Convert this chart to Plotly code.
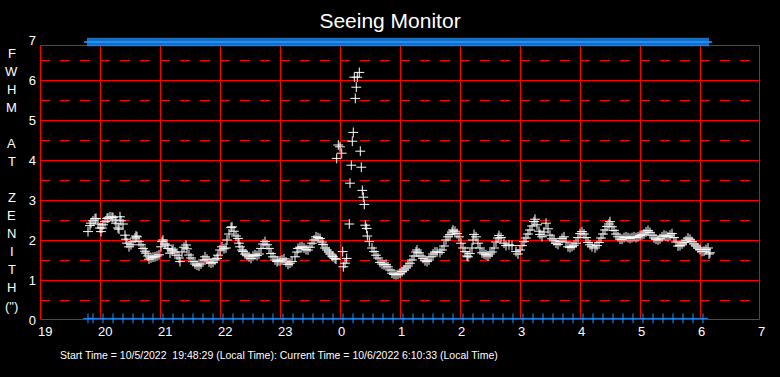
import plotly.graph_objects as go

# ---- data (time in minutes after 19:00 local, FWHM in arcsec) ----
fwhm_minutes = [
    48, 50, 51, 53, 55, 56, 58, 60, 61, 62, 63, 65, 67, 68, 70, 72, 73, 75, 76, 78,
    79, 80, 81, 83, 85, 86, 87, 89, 91, 93, 95, 96, 97, 99, 101, 103, 105, 106, 108, 109,
    111, 113, 115, 117, 119, 121, 122, 123, 125, 127, 128, 130, 132, 133, 135, 137, 139, 140, 142, 144,
    146, 147, 149, 151, 153, 155, 157, 159, 161, 163, 165, 167, 169, 171, 173, 175, 177, 178, 180, 182,
    184, 186, 187, 189, 191, 192, 194, 196, 198, 199, 200, 202, 203, 205, 207, 209, 211, 213, 215, 217,
    219, 221, 223, 225, 227, 229, 231, 233, 235, 237, 238, 240, 242, 244, 246, 248, 250, 252,
    255, 257, 258, 260, 262, 264, 266, 268, 270, 272, 274, 276, 278, 280, 282, 283, 285, 287, 289, 290,
    292, 293, 295, 296,
    296.7, 298.3, 300, 301.7, 302.7, 303.3, 305, 306.7, 309.3, 310, 311.3, 312.3, 313.3, 314.3, 315.3,
    316.3, 317.3, 319.3, 320.3, 321.3, 322.3, 323.3, 324.3, 325.3, 326.7, 327.3, 329.3,
    332, 334, 336, 338, 340, 342, 344, 346, 348, 350, 352, 354, 356, 358, 360, 362, 364, 366, 368, 370,
    372, 374, 376, 377, 379, 381, 383, 385, 387, 389, 391, 393, 395, 397, 400, 402, 404, 406, 408, 410,
    412, 413, 415, 417, 419, 421, 423, 425, 427, 428, 430, 432, 433, 434, 436, 438, 440, 442, 444, 446,
    448, 450, 452, 454, 456, 458, 459, 461, 464, 466, 469, 472, 476, 478, 480, 482, 484, 486, 488, 490,
    492, 494, 495, 497, 499, 500, 502, 504, 506, 508, 510, 512, 514, 516, 518, 520, 522, 524, 526, 528,
    530, 532, 534, 536, 538, 540, 542, 544, 546, 548, 550, 552, 555, 557, 559, 561, 563, 565, 567, 569,
    570, 572, 574, 576, 578, 580, 582, 584, 586, 588, 590, 592, 594, 596, 598, 600, 602, 604, 606, 608,
    610, 612, 614, 616, 618, 620, 622, 624, 626, 628, 630, 632, 634, 636, 638, 640, 642, 644, 646, 648,
    650, 652, 654, 656, 658, 660, 662, 664, 666, 668, 669, 670,
]
fwhm_values = [
    2.21, 2.36, 2.42, 2.48, 2.53, 2.54, 2.40, 2.30, 2.21, 2.30, 2.38, 2.46, 2.54, 2.55, 2.58, 2.57, 2.56, 2.50, 2.42, 2.30,
    2.27, 2.58, 2.48, 2.40, 2.12, 2.02, 1.92, 1.83, 1.88, 1.96, 2.05, 2.10, 2.08, 1.96, 1.88, 1.79, 1.72, 1.67, 1.60, 1.52,
    1.55, 1.57, 1.58, 1.60, 1.63, 1.83, 1.96, 2.00, 1.90, 1.87, 1.79, 1.67, 1.73, 1.77, 1.70, 1.62, 1.55, 1.46, 1.70, 1.82,
    1.875, 1.78, 1.625, 1.55, 1.46, 1.40, 1.37, 1.35, 1.40, 1.50, 1.58, 1.52, 1.45, 1.42, 1.44, 1.50, 1.54, 1.62, 1.75, 1.83,
    1.78, 1.80, 2.00, 2.15, 2.31, 2.33, 2.22, 2.10, 2.04, 1.92, 1.83, 1.75, 1.71, 1.65, 1.62, 1.58, 1.54, 1.60, 1.63, 1.61,
    1.65, 1.79, 1.90, 1.96, 1.88, 1.79, 1.66, 1.58, 1.50, 1.46, 1.48, 1.48, 1.50, 1.53, 1.45, 1.39, 1.42, 1.46,
    1.58, 1.70, 1.79, 1.82, 1.83, 1.80, 1.76, 1.75, 1.82, 1.92, 2.00, 2.08, 2.06, 2.04, 1.95, 1.89, 1.80, 1.75, 1.70, 1.65,
    1.60, 1.58, 1.54, 1.52,
    4.04, 4.375, 4.33, 4.17, 1.71, 1.33, 1.42, 1.54, 2.40, 3.42, 3.87, 4.47, 4.69, 6.07, 5.54,
    5.82, 6.07, 6.19, 4.22, 3.82, 3.24, 3.07, 2.89, 2.37, 2.29, 2.10, 1.96,
    1.80, 1.71, 1.62, 1.55, 1.44, 1.40, 1.38, 1.39, 1.33, 1.25, 1.17, 1.14, 1.13, 1.14, 1.17, 1.21, 1.25, 1.30, 1.35, 1.42,
    1.50, 1.60, 1.70, 1.75, 1.68, 1.60, 1.54, 1.48, 1.46, 1.50, 1.58, 1.65, 1.70, 1.70, 1.69, 1.75, 1.85, 2.00, 2.08, 2.14,
    2.20, 2.25, 2.22, 2.16, 2.08, 1.92, 1.80, 1.71, 1.60, 1.58, 1.66, 1.80, 2.00, 2.14, 2.08, 1.92, 1.80, 1.68, 1.65, 1.63,
    1.60, 1.65, 1.70, 1.80, 1.95, 2.05, 2.11, 2.06, 1.92, 1.86, 1.88, 1.86, 1.71, 1.65, 1.75, 1.86, 1.96, 2.05, 2.15, 2.25,
    2.35, 2.46, 2.52, 2.38, 2.22, 2.14, 2.08, 2.20, 2.42, 2.28, 2.12, 2.03, 1.98, 1.92, 1.89, 1.96, 2.04, 2.08, 1.95, 1.83,
    1.81, 1.84, 1.87, 1.92, 2.06, 2.16, 2.21, 2.15, 2.06, 1.94, 1.88, 1.83, 1.80, 1.86, 1.94, 2.05, 2.15, 2.25, 2.34, 2.40,
    2.46, 2.33, 2.24, 2.15, 2.08, 2.02, 2.02, 2.06, 2.08, 2.06, 2.04, 2.06, 2.08, 2.06, 2.08, 2.11, 2.13, 2.15, 2.20, 2.24,
    2.19, 2.12, 2.05, 2.02, 2.00, 2.03, 2.08, 2.12, 2.10, 2.08, 2.12, 2.16, 2.06, 1.95, 1.85, 1.86, 1.90, 1.94, 1.98, 2.05,
    2.02, 1.96, 1.90, 1.85, 1.80, 1.76, 1.71, 1.72, 1.76, 1.80, 1.65, 1.68,
]

# status markers (blue), minutes after 19:00
status_bottom_minutes = [48, 53] + list(range(63, 664, 10))
status_top_minutes = list(range(48, 670, 2))
status_bottom_level = 0.04
status_top_level = 6.95

x_tick_vals = list(range(19, 32))
x_tick_text = ["19", "20", "21", "22", "23", "0", "1", "2", "3", "4", "5", "6", "7"]
y_tick_vals = [0, 1, 2, 3, 4, 5, 6, 7]

title_text = "Seeing Monitor"
axis_letters = ["F", "W", "H", "M", "", "A", "T", "", "Z", "E", "N", "I", "T", "H", "(\")"]
footer_text = ("Start Time = 10/5/2022&nbsp; 19:48:29 (Local Time): Current Time = "
               "10/6/2022 6:10:33 (Local Time)")

def to_hours(mins):
    return [19 + m / 60.0 for m in mins]

FONT = "Liberation Sans, Arial, sans-serif"
RED = "#ff0000"
BLUE = "#1e90ff"

# figure geometry (pixels)
W, H = 780, 377
ML, MR, MT, MB = 40, 20, 40, 57
PW, PH = W - ML - MR, H - MT - MB
dx = 0.5 * 12 / PW   # half pixel in hours
dy = 0.5 * 7 / PH    # half pixel in FWHM units

fig = go.Figure()

fig.add_trace(go.Scatter(
    x=to_hours(status_top_minutes), y=[status_top_level] * len(status_top_minutes),
    mode="markers", cliponaxis=False, hoverinfo="skip",
    marker=dict(symbol="cross-thin", size=6, line=dict(color=BLUE, width=1.5)),
))
fig.add_trace(go.Scatter(
    x=to_hours(status_bottom_minutes), y=[status_bottom_level] * len(status_bottom_minutes),
    mode="markers", cliponaxis=False, hoverinfo="skip",
    marker=dict(symbol="cross-thin", size=7, line=dict(color=BLUE, width=1)),
))
fig.add_trace(go.Scatter(
    x=to_hours(fwhm_minutes), y=fwhm_values,
    mode="markers", cliponaxis=False,
    marker=dict(symbol="cross-thin", size=7, line=dict(color="white", width=1)),
))

frame_top = 6.875
shapes = []
for k in range(7):
    yv = k + 0.5 - dy
    shapes.append(dict(type="line", xref="x", yref="y", x0=19, x1=31, y0=yv, y1=yv,
                       line=dict(color=RED, width=1, dash="10px,10px"), layer="below"))
for k in range(1, 7):
    yv = k - dy
    shapes.append(dict(type="line", xref="x", yref="y", x0=19, x1=31, y0=yv, y1=yv,
                       line=dict(color=RED, width=1), layer="below"))
for hv in range(20, 31):
    shapes.append(dict(type="line", xref="x", yref="y", x0=hv + dx, x1=hv + dx, y0=0, y1=frame_top,
                       line=dict(color=RED, width=1), layer="below"))
shapes.append(dict(type="rect", xref="x", yref="y", x0=19 + dx, x1=31 - dx, y0=0 + dy,
                   y1=frame_top - dy, line=dict(color=RED, width=1), layer="below"))

def px_to_paper(px, py):
    return (px - ML) / PW, (H - MB - py) / PH

annotations = []
for xv, txt in zip(x_tick_vals, x_tick_text):
    annotations.append(dict(x=xv, y=0, xref="x", yref="y", text=txt, showarrow=False,
                            xanchor="left", yanchor="top", xshift=-4, yshift=-2,
                            font=dict(family=FONT, size=13, color="white")))
for i, letter in enumerate(axis_letters):
    if not letter:
        continue
    ax, ay = px_to_paper(11.5, 53.3 + i * 18.05)
    annotations.append(dict(x=ax, y=ay, xref="paper", yref="paper",
                            text=letter, showarrow=False, xanchor="center", yanchor="middle",
                            font=dict(family=FONT, size=13, color="white")))
fx, fy = px_to_paper(58, 355)
annotations.append(dict(x=fx, y=fy, xref="paper", yref="paper",
                        text=footer_text, showarrow=False, xanchor="left", yanchor="middle",
                        font=dict(family=FONT, size=10.5, color="white")))

fig.update_layout(
    width=W, height=H,
    margin=dict(l=ML, r=MR, t=MT, b=MB, pad=0),
    paper_bgcolor="black", plot_bgcolor="black",
    showlegend=False,
    title=dict(text=title_text, x=0.5, xanchor="center", y=1 - 21 / H, yanchor="middle",
               font=dict(family=FONT, size=21, color="white")),
    xaxis=dict(range=[19, 31], showgrid=False, zeroline=False, showticklabels=False,
               showline=False, ticks="", fixedrange=True, automargin=False),
    yaxis=dict(range=[0, 7], showgrid=False, zeroline=False, showline=False,
               tickvals=y_tick_vals, ticktext=[str(v) for v in y_tick_vals], ticks="",
               ticklabelstandoff=3, automargin=False,
               tickfont=dict(family=FONT, size=13, color="white"), fixedrange=True),
    shapes=shapes,
    annotations=annotations,
)

fig.write_html("out.html", config={"displayModeBar": False},
               post_script="document.body.style.margin='0';")
